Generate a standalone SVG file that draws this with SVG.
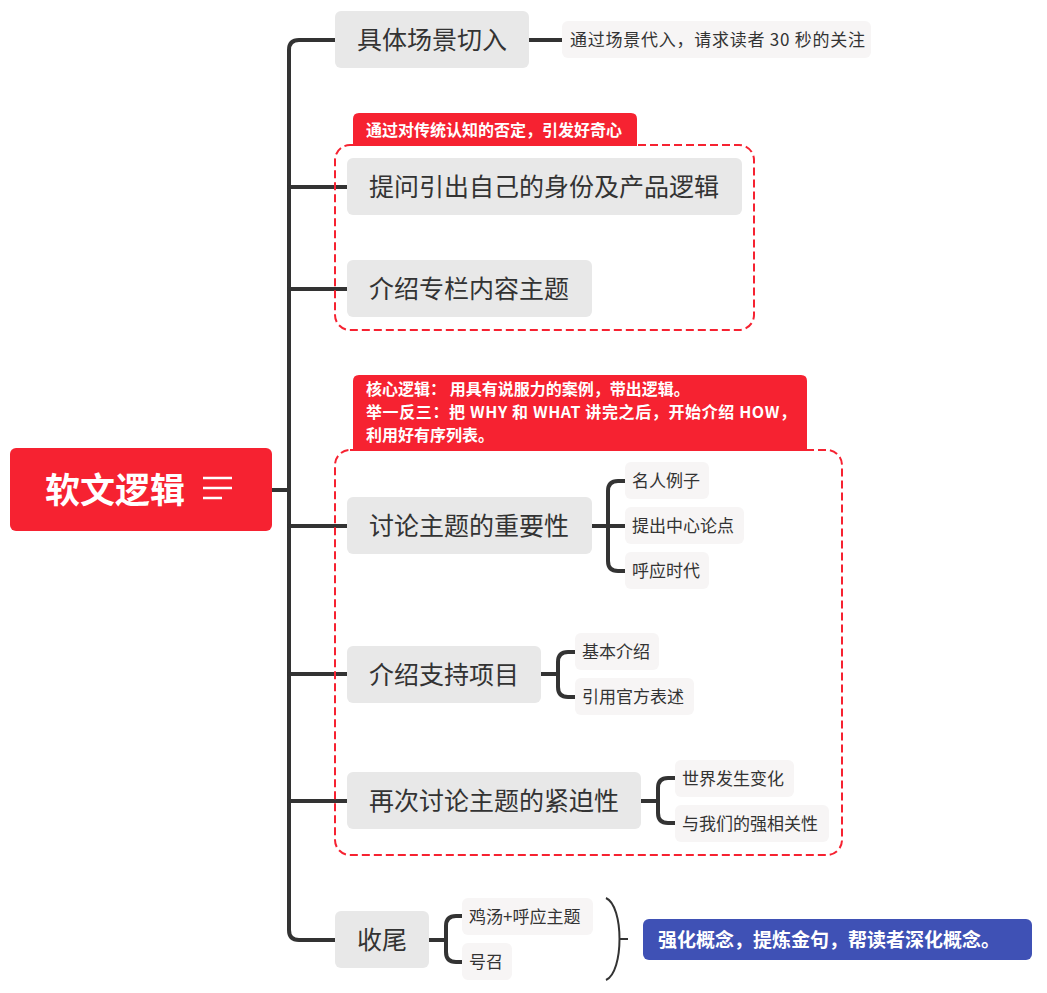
<svg xmlns="http://www.w3.org/2000/svg" width="1047" height="993" viewBox="0 0 1047 993">
<style>
text{font-family:"Noto Sans CJK SC","Liberation Sans",sans-serif;}
.topic{fill:#e8e8e8;}
.tt{font-size:25px;fill:#333;}
.sub{fill:#f7f5f5;}
.st{font-size:17px;fill:#333;}
.line{fill:none;stroke:#333;stroke-width:4;stroke-linecap:round;stroke-linejoin:round;}
.bound{fill:none;stroke:#f62231;stroke-width:2;stroke-dasharray:8 4;}
.tab{fill:#f62231;}
.tabt{font-size:16px;font-weight:bold;fill:#fff;}
</style>
<rect width="1047" height="993" fill="#fff"/>
<g id="connectors">
<path class="line" d="M272,490 H289"/>
<path class="line" d="M335,40 H299 Q289,40 289,50 V930 Q289,940 299,940 H335"/>
<path class="line" d="M289,187 H347"/>
<path class="line" d="M289,289 H347"/>
<path class="line" d="M289,526 H347"/>
<path class="line" d="M289,674 H347"/>
<path class="line" d="M289,801 H347"/>
<path class="line" d="M529,40 H562"/>
<path class="line" d="M592,526 H625 M625,481 H618 Q608,481 608,491 V561 Q608,571 618,571 H625"/>
<path class="line" d="M541,674 H558 M575,652 H568 Q558,652 558,662 V687 Q558,697 568,697 H575"/>
<path class="line" d="M641,801 H658 M675,778 H668 Q658,778 658,788 V813 Q658,823 668,823 H675"/>
<path class="line" d="M429,940 H446 M462,916 H456 Q446,916 446,926 V952 Q446,962 456,962 H462"/>
<path d="M606,898 C624,906 624,972 606,980 M620,939 H628" fill="none" stroke="#333" stroke-width="2"/>
</g>
<g id="boundary1">
<rect class="bound" x="335" y="145" width="419" height="185" rx="15"/>
<path class="tab" d="M353,146 V119 Q353,113 359,113 H631 Q637,113 637,119 V146 Z"/>
<text class="tabt" x="366" y="136">通过对传统认知的否定，引发好奇心</text>
</g>
<g id="boundary2">
<rect class="bound" x="335" y="450" width="507" height="405" rx="15"/>
<path class="tab" d="M353,451 V381 Q353,375 359,375 H801 Q807,375 807,381 V451 Z"/>
<text class="tabt" x="366" y="395">核心逻辑： 用具有说服力的案例，带出逻辑。</text>
<text class="tabt" x="366" y="418" textLength="430" lengthAdjust="spacing">举一反三：把 WHY 和 WHAT 讲完之后，开始介绍 HOW，</text>
<text class="tabt" x="366" y="441">利用好有序列表。</text>
</g>
<g id="root">
<rect x="10" y="448" width="262" height="83" rx="6" fill="#f62231"/>
<text x="45" y="503" font-size="35" font-weight="bold" fill="#fff">软文逻辑</text>
<path d="M203,478 H232 M203,488 H232 M203,498 H222" stroke="#fff" stroke-width="2.5"/>
</g>
<g id="t1">
<rect class="topic" x="335" y="11" width="194" height="57" rx="6"/>
<text class="tt" x="357" y="49">具体场景切入</text>
</g>
<g id="t1s">
<rect class="sub" x="562" y="21" width="309" height="37" rx="6"/>
<text class="st" x="570" y="46" textLength="295" lengthAdjust="spacing">通过场景代入，请求读者 30 秒的关注</text>
</g>
<g id="t2">
<rect class="topic" x="347" y="158" width="395" height="57" rx="6"/>
<text class="tt" x="369" y="196">提问引出自己的身份及产品逻辑</text>
</g>
<g id="t3">
<rect class="topic" x="347" y="260" width="245" height="57" rx="6"/>
<text class="tt" x="369" y="298">介绍专栏内容主题</text>
</g>
<g id="t4">
<rect class="topic" x="347" y="497" width="245" height="57" rx="6"/>
<text class="tt" x="369" y="535">讨论主题的重要性</text>
</g>
<g id="t4a">
<rect class="sub" x="625" y="462" width="84" height="37" rx="6"/>
<text class="st" x="632" y="487">名人例子</text>
</g>
<g id="t4b">
<rect class="sub" x="625" y="507" width="119" height="37" rx="6"/>
<text class="st" x="632" y="532">提出中心论点</text>
</g>
<g id="t4c">
<rect class="sub" x="625" y="552" width="84" height="37" rx="6"/>
<text class="st" x="632" y="577">呼应时代</text>
</g>
<g id="t5">
<rect class="topic" x="347" y="646" width="194" height="57" rx="6"/>
<text class="tt" x="369" y="684">介绍支持项目</text>
</g>
<g id="t5a">
<rect class="sub" x="575" y="633" width="84" height="37" rx="6"/>
<text class="st" x="582" y="658">基本介绍</text>
</g>
<g id="t5b">
<rect class="sub" x="575" y="678" width="119" height="37" rx="6"/>
<text class="st" x="582" y="703">引用官方表述</text>
</g>
<g id="t6">
<rect class="topic" x="347" y="772" width="294" height="57" rx="6"/>
<text class="tt" x="369" y="810">再次讨论主题的紧迫性</text>
</g>
<g id="t6a">
<rect class="sub" x="675" y="760" width="119" height="37" rx="6"/>
<text class="st" x="682" y="785">世界发生变化</text>
</g>
<g id="t6b">
<rect class="sub" x="675" y="805" width="154" height="37" rx="6"/>
<text class="st" x="682" y="830">与我们的强相关性</text>
</g>
<g id="t7">
<rect class="topic" x="335" y="911" width="94" height="57" rx="6"/>
<text class="tt" x="357" y="949">收尾</text>
</g>
<g id="t7a">
<rect class="sub" x="462" y="898" width="131" height="37" rx="6"/>
<text class="st" x="469" y="923">鸡汤+呼应主题</text>
</g>
<g id="t7b">
<rect class="sub" x="462" y="943" width="50" height="37" rx="6"/>
<text class="st" x="469" y="968">号召</text>
</g>
<g id="summary">
<rect x="643" y="919" width="389" height="41" rx="6" fill="#3f51b5"/>
<text x="658" y="947" font-size="19" font-weight="bold" fill="#fff">强化概念，提炼金句，帮读者深化概念。</text>
</g>
</svg>
